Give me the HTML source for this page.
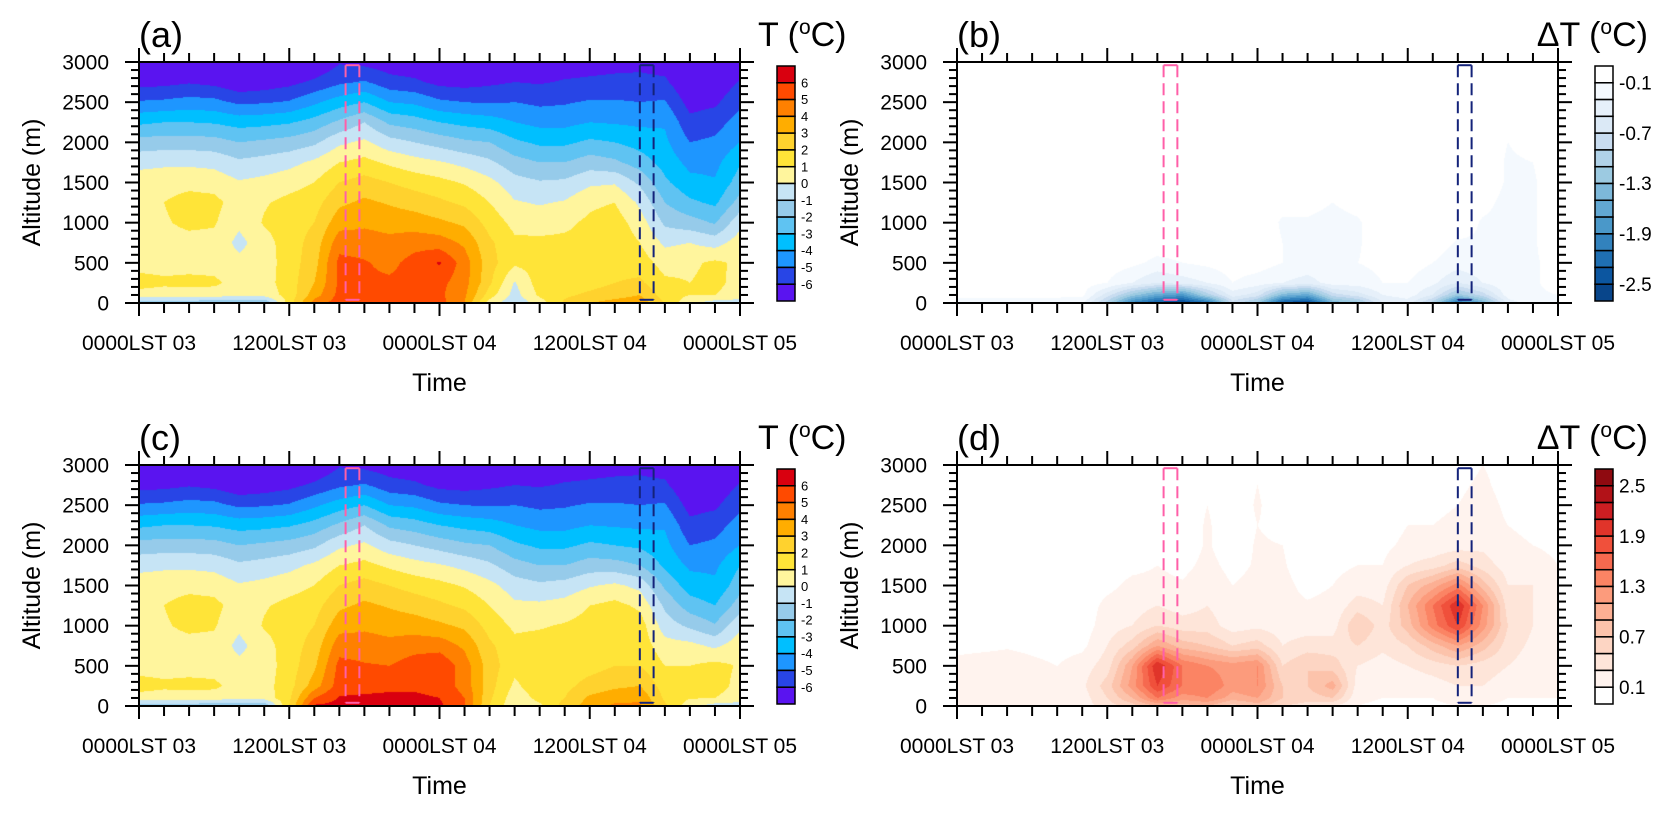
<!DOCTYPE html>
<html><head><meta charset="utf-8"><style>
body{margin:0;background:#fff;width:1665px;height:813px;overflow:hidden;position:relative;font-family:"Liberation Sans",sans-serif}
canvas{position:absolute}
svg{position:absolute;left:0;top:0}
</style></head><body>
<canvas id="cA" width="601" height="241" style="left:139px;top:62px"></canvas>
<canvas id="cB" width="601" height="241" style="left:957px;top:62px"></canvas>
<canvas id="cC" width="601" height="241" style="left:139px;top:465px"></canvas>
<canvas id="cD" width="601" height="241" style="left:957px;top:465px"></canvas>
<svg id="ov" width="1665" height="813"></svg>
<script>
const times=[0,2,4,6,8,10,12,14,16,18,20,22,24,26,28,30,32,34,36,38,40,42,44,46,48];
const alts=[0,100,250,500,750,1000,1250,1500,1750,2000,2250,2500,2750,3000];
const tempA=[
[-1.5,0.6,1.4,0.6,0.6,0.7,0.8,0.5,-0.3,-1.6,-3.2,-4.9,-6.4,-7.5],
[-1.5,0.5,1.2,0.6,0.7,0.9,1.0,0.6,-0.2,-1.5,-3.0,-4.8,-6.3,-7.5],
[-1.6,0.5,1.3,0.6,0.7,1.2,1.4,0.7,-0.2,-1.5,-3.0,-4.6,-6.1,-7.5],
[-1.8,0.5,1.2,0.6,0.7,1.1,1.3,0.6,-0.3,-1.6,-3.1,-4.7,-6.3,-7.5],
[-2.0,0.3,0.6,0.3,-0.3,0.2,0.5,0.1,-0.8,-2.0,-3.4,-5.2,-6.8,-7.8],
[-2.0,0.4,0.6,0.5,0.6,1.1,0.9,0.3,-0.6,-1.8,-3.3,-5.1,-6.6,-7.6],
[1.5,1.4,1.5,1.5,1.5,1.5,1.3,0.6,-0.3,-1.6,-3.1,-4.9,-6.3,-7.4],
[4.5,3.5,3.0,2.6,2.4,2.0,1.6,1.0,0.2,-1.2,-2.6,-4.2,-5.8,-7.0],
[5.5,5.3,5.2,5.3,4.6,3.6,2.8,2.0,1.0,-0.2,-1.8,-3.5,-5.2,-6.1],
[5.5,5.3,5.2,5.1,4.5,3.8,3.2,2.4,1.3,0.2,-1.0,-3.0,-4.9,-6.3],
[5.6,5.4,5.2,4.7,4.3,3.6,2.9,2.0,0.8,-0.6,-2.2,-4.0,-5.6,-6.6],
[5.6,5.5,5.4,5.4,4.6,3.5,2.6,1.6,0.4,-1.0,-2.5,-4.2,-5.8,-6.8],
[5.4,5.2,5.3,6.1,4.5,3.2,2.2,1.3,0.1,-1.4,-3.0,-4.8,-6.3,-7.3],
[4.0,4.2,4.4,4.5,3.8,2.8,1.8,0.9,-0.3,-1.8,-3.3,-5.0,-6.4,-7.4],
[0.5,1.5,2.2,2.4,2.2,1.6,1.0,0.3,-0.8,-2.0,-3.5,-5.1,-6.2,-7.0],
[-0.8,-0.4,-0.1,1.2,1.2,0.7,0.1,-0.6,-1.6,-2.8,-4.0,-5.0,-6.0,-6.8],
[0.5,1.2,1.5,1.4,1.2,0.6,-0.1,-0.9,-2.0,-3.2,-4.3,-5.2,-6.1,-6.7],
[2.2,1.8,1.6,1.3,1.2,0.8,0.1,-0.8,-2.0,-3.2,-4.3,-5.1,-5.9,-6.6],
[3.0,2.2,1.6,1.2,1.2,1.2,0.8,-0.2,-1.5,-2.8,-4.0,-4.9,-5.8,-6.5],
[3.4,2.6,2.0,1.6,1.7,1.5,1.0,-0.1,-1.8,-3.0,-4.1,-4.9,-5.7,-6.4],
[3.6,3.0,2.2,1.5,1.0,0.5,-0.2,-1.2,-2.5,-3.4,-4.2,-5.0,-5.7,-6.3],
[2.0,1.5,1.2,0.6,-0.2,-1.2,-2.0,-2.8,-3.4,-3.8,-4.1,-4.9,-5.8,-6.5],
[0.2,1.0,1.0,0.8,0.0,-1.6,-2.8,-3.7,-4.3,-5.0,-5.7,-6.4,-7.0,-7.4],
[-0.5,1.0,1.3,1.2,-0.4,-2.1,-3.2,-3.9,-4.3,-4.8,-5.4,-6.2,-6.8,-7.2],
[-0.5,0.5,0.6,0.8,0.5,-0.3,-1.6,-2.5,-3.1,-4.0,-4.6,-5.2,-5.9,-6.6]];
const tempC=[
[-1.5,0.6,1.4,0.6,0.6,0.7,0.8,0.5,-0.3,-1.6,-3.2,-4.9,-6.4,-7.5],
[-1.5,0.5,1.2,0.6,0.7,0.9,1.0,0.6,-0.2,-1.5,-3.0,-4.8,-6.3,-7.5],
[-1.6,0.5,1.3,0.6,0.7,1.2,1.4,0.7,-0.2,-1.5,-3.0,-4.6,-6.1,-7.5],
[-1.8,0.5,1.2,0.6,0.7,1.1,1.3,0.6,-0.3,-1.6,-3.1,-4.7,-6.3,-7.5],
[-2.0,0.3,0.6,0.3,-0.3,0.2,0.5,0.1,-0.8,-2.0,-3.4,-5.2,-6.8,-7.8],
[-2.0,0.4,0.6,0.5,0.6,1.1,0.9,0.3,-0.6,-1.8,-3.3,-5.1,-6.6,-7.6],
[2.0,1.8,1.6,1.5,1.5,1.5,1.3,0.6,-0.3,-1.6,-3.1,-4.9,-6.3,-7.4],
[6.2,5.0,3.5,2.8,2.4,2.0,1.6,1.0,0.2,-1.2,-2.6,-4.2,-5.8,-7.0],
[6.3,6.1,5.5,5.3,4.6,3.6,2.8,2.0,1.0,-0.2,-1.8,-3.5,-5.2,-6.1],
[6.3,6.2,5.6,5.1,4.5,3.8,3.2,2.4,1.3,0.2,-1.0,-3.0,-4.9,-6.3],
[6.3,6.2,5.8,5.0,4.3,3.6,2.9,2.0,0.8,-0.6,-2.2,-4.0,-5.6,-6.6],
[6.3,6.2,5.8,5.5,4.6,3.5,2.6,1.6,0.4,-1.0,-2.5,-4.2,-5.8,-6.8],
[6.2,6.0,5.6,5.8,4.6,3.2,2.2,1.3,0.1,-1.4,-3.0,-4.8,-6.3,-7.3],
[5.0,5.0,4.6,4.5,3.8,2.8,1.8,0.9,-0.3,-1.8,-3.3,-5.0,-6.4,-7.4],
[2.0,2.2,2.4,2.5,2.2,1.6,1.0,0.3,-0.8,-2.0,-3.5,-5.1,-6.2,-7.0],
[0.2,0.4,0.8,1.3,1.3,0.8,0.2,-0.5,-1.6,-2.8,-4.0,-5.0,-6.0,-6.8],
[0.8,1.3,1.6,1.5,1.4,0.9,0.2,-0.8,-2.0,-3.2,-4.3,-5.2,-6.1,-6.7],
[2.4,2.0,1.7,1.4,1.4,1.1,0.4,-0.6,-2.0,-3.2,-4.3,-5.1,-5.9,-6.6],
[3.5,3.2,2.4,1.6,1.4,1.4,1.0,-0.1,-1.5,-2.8,-4.0,-4.9,-5.8,-6.5],
[4.2,3.6,2.8,2.0,1.9,1.8,1.3,0.2,-1.6,-3.0,-4.1,-4.9,-5.7,-6.4],
[4.2,3.8,3.0,2.0,1.6,1.5,0.8,-0.3,-2.0,-3.2,-4.2,-5.0,-5.7,-6.3],
[2.2,1.8,1.5,1.0,0.4,-0.5,-1.2,-2.2,-3.2,-3.7,-4.1,-4.9,-5.8,-6.5],
[0.3,1.1,1.2,1.0,0.3,-1.2,-2.5,-3.5,-4.2,-5.0,-5.7,-6.4,-7.0,-7.4],
[-0.5,1.0,1.4,1.3,-0.2,-1.9,-3.0,-3.8,-4.2,-4.8,-5.4,-6.2,-6.8,-7.2],
[-0.5,0.5,0.7,0.9,0.6,-0.2,-1.5,-2.4,-3.0,-4.0,-4.6,-5.2,-5.9,-6.6]];
const deltaB=[
[-0.2,-0.05,0,0,0,0,0,0,0,0,0,0,0,0],
[-0.2,-0.05,0,0,0,0,0,0,0,0,0,0,0,0],
[-0.2,-0.05,0,0,0,0,0,0,0,0,0,0,0,0],
[-0.2,-0.05,0,0,0,0,0,0,0,0,0,0,0,0],
[-0.2,-0.05,0,0,0,0,0,0,0,0,0,0,0,0],
[-0.25,-0.05,0,0,0,0,0,0,0,0,0,0,0,0],
[-1.0,-0.6,-0.1,0,0,0,0,0,0,0,0,0,0,0],
[-2.0,-1.2,-0.3,-0.05,0,0,0,0,0,0,0,0,0,0],
[-2.4,-1.6,-0.5,-0.15,0,0,0,0,0,0,0,0,0,0],
[-2.6,-1.8,-0.4,-0.1,0,0,0,0,0,0,0,0,0,0],
[-2.2,-1.0,-0.3,-0.05,0,0,0,0,0,0,0,0,0,0],
[-0.8,-0.4,-0.1,0,0,0,0,0,0,0,0,0,0,0],
[-1.2,-0.6,-0.2,0,0,0,0,0,0,0,0,0,0,0],
[-2.4,-1.4,-0.3,-0.1,-0.1,-0.12,-0.05,0,0,0,0,0,0,0],
[-2.6,-1.6,-0.4,-0.15,-0.12,-0.12,-0.05,0,0,0,0,0,0,0],
[-1.5,-0.8,-0.2,-0.12,-0.12,-0.15,-0.1,0,0,0,0,0,0,0],
[-1.2,-0.6,-0.2,-0.1,-0.12,-0.12,-0.05,0,0,0,0,0,0,0],
[-0.5,-0.3,-0.1,-0.05,0,0,0,0,0,0,0,0,0,0],
[-0.4,-0.2,-0.1,0,0,0,0,0,0,0,0,0,0,0],
[-1.0,-0.5,-0.25,-0.1,0,0,0,0,0,0,0,0,0,0],
[-2.2,-1.2,-0.5,-0.2,-0.12,0,0,0,0,0,0,0,0,0],
[-1.5,-0.8,-0.3,-0.15,-0.12,-0.12,-0.05,0,0,0,0,0,0,0],
[-0.4,-0.2,-0.12,-0.12,-0.12,-0.15,-0.15,-0.12,-0.12,-0.1,-0.05,0,0,0],
[-0.2,-0.12,-0.12,-0.12,-0.12,-0.12,-0.12,-0.12,-0.1,-0.05,0,0,0,0],
[-0.2,-0.1,-0.05,-0.05,0,0,0,0,0,0,0,0,0,0]];
const deltaD=[
[0.2,0.2,0.2,0.15,0.05,0,0,0,0,0,0,0,0,0],
[0.2,0.25,0.25,0.2,0.05,0,0,0,0,0,0,0,0,0],
[0.2,0.25,0.3,0.2,0.08,0,0,0,0,0,0,0,0,0],
[0.2,0.2,0.2,0.15,0.05,0,0,0,0,0,0,0,0,0],
[0.15,0.2,0.2,0.1,0.02,0,0,0,0,0,0,0,0,0],
[0.2,0.2,0.25,0.2,0.05,0,0,0,0,0,0,0,0,0],
[0.4,0.5,0.6,0.4,0.3,0.2,0.15,0.05,0,0,0,0,0,0],
[0.6,0.9,1.2,1.1,0.6,0.3,0.2,0.15,0.05,0,0,0,0,0],
[0.9,1.5,1.9,2.1,1.1,0.5,0.3,0.15,0.1,0.05,0,0,0,0],
[0.8,1.2,1.5,1.5,0.8,0.4,0.2,0.12,0.05,0,0,0,0,0],
[0.9,1.3,1.5,1.3,0.7,0.4,0.3,0.2,0.15,0.12,0.12,0.1,0.1,0.05],
[0.6,1.0,1.2,1.2,0.5,0.2,0.15,0.1,0.05,0,0,0,0,0],
[0.8,1.1,1.3,1.3,0.6,0.25,0.15,0.15,0.12,0.12,0.1,0.12,0.1,0.05],
[0.5,0.7,0.7,0.5,0.3,0.2,0.15,0.15,0.12,0.1,0.05,0,0,0],
[0.4,0.6,0.7,0.7,0.4,0.2,0.12,0.05,0,0,0,0,0,0],
[0.3,0.7,1.0,0.6,0.4,0.2,0.15,0.1,0.05,0,0,0,0,0],
[0.1,0.15,0.2,0.3,0.5,0.7,0.4,0.2,0.1,0.05,0,0,0,0],
[0.05,0.1,0.15,0.2,0.35,0.4,0.3,0.2,0.1,0.05,0,0,0,0],
[0.05,0.1,0.15,0.3,0.5,0.8,0.9,0.7,0.3,0.15,0.1,0,0,0],
[0.05,0.1,0.2,0.4,0.8,1.4,1.5,1.0,0.4,0.15,0.1,0.05,0,0],
[0.1,0.2,0.3,0.5,1.1,1.9,2.1,1.4,0.6,0.2,0.15,0.1,0.05,0],
[0.1,0.2,0.3,0.4,0.8,1.2,1.3,0.8,0.4,0.25,0.2,0.2,0.15,0.1],
[0.05,0.1,0.2,0.3,0.4,0.5,0.4,0.3,0.2,0.15,0.1,0.05,0,0],
[0.05,0.1,0.15,0.2,0.25,0.3,0.3,0.3,0.2,0.1,0.05,0,0,0],
[0.05,0.1,0.1,0.1,0.15,0.2,0.2,0.15,0.1,0.05,0,0,0,0]];
const levelsT=[-6,-5,-4,-3,-2,-1,0,1,2,3,4,5,6];
const colorsT=['#5a14f0','#2845e6','#1e96ff','#00bfff','#5fc3f2','#96cbea','#c6e4f5','#fff59d','#ffe438','#ffd22e','#ffad00','#ff8000','#ff4a00','#d9000f'];
const levelsB=[-2.5,-2.3,-2.1,-1.9,-1.7,-1.5,-1.3,-1.1,-0.9,-0.7,-0.5,-0.3,-0.1];
const colorsB=['#08458a','#0c56a0','#1f6fb2','#3282bd','#4a98c9','#62a8d3','#7db8da','#9ccae1','#b0d2e8','#c8dcf0','#dbe9f6','#e6f0fa','#f4f9fe','#ffffff'];
const levelsD=[0.1,0.3,0.5,0.7,0.9,1.1,1.3,1.5,1.7,1.9,2.1,2.3,2.5];
const colorsD=['#ffffff','#fff3ee','#fee5d9','#fdd5c3','#fcc3ab','#fcaf93','#fc9b7c','#fb8464','#f6694f','#f0503b','#e0342a','#cb1e22','#b21218','#8f0a10'];
const labelsB=['-0.1','-0.7','-1.3','-1.9','-2.5'];
const labelsD=['2.5','1.9','1.3','0.7','0.1'];
const xTickLabels=['0000LST 03','1200LST 03','0000LST 04','1200LST 04','0000LST 05'];
const yTickLabels=[0,500,1000,1500,2000,2500,3000];
const pinkBox=[16.5,17.6], blueBox=[40.0,41.1];

function hex(c){return [parseInt(c.substr(1,2),16),parseInt(c.substr(3,2),16),parseInt(c.substr(5,2),16)];}
function sample(grid,t,z){
  let i=Math.min(Math.floor(t/2),times.length-2);let ft=(t-times[i])/(times[i+1]-times[i]);
  let j=0;while(j<alts.length-2&&z>alts[j+1])j++;let fz=(z-alts[j])/(alts[j+1]-alts[j]);
  const a=grid[i][j]*(1-ft)+grid[i+1][j]*ft, b=grid[i][j+1]*(1-ft)+grid[i+1][j+1]*ft;
  return a*(1-fz)+b*fz;
}
function drawField(id,grid,levels,colors){
  const cv=document.getElementById(id),ctx=cv.getContext('2d'),W=cv.width,H=cv.height;
  const img=ctx.createImageData(W,H),cols=colors.map(hex);
  for(let py=0;py<H;py++){const z=(H-py-0.5)/H*3000;
    for(let px=0;px<W;px++){const t=(px+0.5)/W*48;const v=sample(grid,t,z);
      let k=0;while(k<levels.length&&v>=levels[k])k++;
      const c=cols[k],o=(py*W+px)*4;img.data[o]=c[0];img.data[o+1]=c[1];img.data[o+2]=c[2];img.data[o+3]=255;}}
  ctx.putImageData(img,0,0);
}
drawField('cA',tempA,levelsT,colorsT);
drawField('cB',deltaB,levelsB,colorsB);
drawField('cC',tempC,levelsT,colorsT);
drawField('cD',deltaD,levelsD,colorsD);

const NS='http://www.w3.org/2000/svg',svg=document.getElementById('ov');
function mk(tag,attrs,parent){const e=document.createElementNS(NS,tag);for(const k in attrs)e.setAttribute(k,attrs[k]);(parent||svg).appendChild(e);return e;}
function txt(s,attrs,parent){const e=mk('text',attrs,parent);e.textContent=s;return e;}
const W=601,H=241;
function panel(px,py,letter,name,cbColors,cbLabels,cbLabelIdx,cbFont,title){
  const g=mk('g',{});
  
  
  const xs=t=>px+t/48*W, ys=z=>py+H-z/3000*H;
  [[pinkBox,'#ff5fa8','pink'],[blueBox,'#14237a','blue']].forEach(([b,c,n])=>{
    const x1=xs(b[0]),x2=xs(b[1]),y1=ys(2960),y2=ys(40);
    const bg=mk('g',{fill:'none',stroke:c,'stroke-width':2},g);
    
    
    mk('line',{x1:x1,y1:y1,x2:x2,y2:y1},bg);mk('line',{x1:x1,y1:y2,x2:x2,y2:y2},bg);
    mk('line',{x1:x1,y1:y1,x2:x1,y2:y2,'stroke-dasharray':'12,6'},bg);
    mk('line',{x1:x2,y1:y1,x2:x2,y2:y2,'stroke-dasharray':'12,6'},bg);
  });
  mk('rect',{x:px,y:py,width:W,height:H,fill:'none',stroke:'#000','stroke-width':2},g);
  const ax=mk('g',{stroke:'#000','stroke-width':2},g);
  for(let t=0;t<=48;t+=2){const x=xs(t),maj=t%12===0;
    mk('line',{x1:x,y1:py+H,x2:x,y2:py+H+(maj?13:10)},ax);
    mk('line',{x1:x,y1:py,x2:x,y2:py-(maj?14:9)},ax);}
  for(let z=0;z<=3000;z+=100){const y=ys(z),maj=z%500===0;
    mk('line',{x1:px,y1:y,x2:px-(maj?14:8),y2:y},ax);
    mk('line',{x1:px+W,y1:y,x2:px+W+(maj?14:8),y2:y},ax);}
  xTickLabels.forEach((s,i)=>{const e=txt(s,{x:xs(i*12),y:py+288,'font-size':21,'text-anchor':'middle'},g);
    });
  yTickLabels.forEach(v=>{const e=txt(String(v),{x:px-30,y:ys(v)+7.5,'font-size':21,'text-anchor':'end'},g);
    });
  const xt=txt('Time',{x:px+W/2,y:py+329,'font-size':25,'text-anchor':'middle'},g);
  
  const yt=txt('Altitude (m)',{x:0,y:0,'font-size':25,'text-anchor':'middle',transform:`translate(${px-99},${py+H/2}) rotate(-90)`},g);
  
  const pl=txt('('+letter+')',{x:px,y:py-15,'font-size':36},g);
  
  const cx=px+W+37,cy=py+4,bh=235/14;
  const cb=mk('g',{},g);
  
  for(let k=0;k<14;k++){mk('rect',{x:cx,y:cy+k*bh,width:18,height:bh,fill:cbColors[13-k],stroke:'#000','stroke-width':1.5},cb);}
  cbLabels.forEach((s,i)=>{const e=txt(s,{x:cx+24,y:cy+cbLabelIdx[i]*bh+cbFont*0.35,'font-size':cbFont},cb);
    });
  const tt=mk('text',{x:title[1],y:py-16,'font-size':34,'text-anchor':title[2]},g);
  
  tt.appendChild(document.createTextNode(title[0]+' ('));
  const sup=mk('tspan',{'font-size':21,dy:-12},tt);sup.textContent='o';
  const rest=mk('tspan',{dy:12},tt);rest.textContent='C)';
}
const labT=['6','5','4','3','2','1','0','-1','-2','-3','-4','-5','-6'];
const idxT=[1,2,3,4,5,6,7,8,9,10,11,12,13];
panel(139,62,'a','panel-a',colorsT,labT,idxT,13,['T',758,'start']);
panel(957,62,'b','panel-b',colorsB,labelsB,[1,4,7,10,13],19,['ΔT',1648,'end']);
panel(139,465,'c','panel-c',colorsT,labT,idxT,13,['T',758,'start']);
panel(957,465,'d','panel-d',colorsD,labelsD,[1,4,7,10,13],19,['ΔT',1648,'end']);
</script>
</body></html>
